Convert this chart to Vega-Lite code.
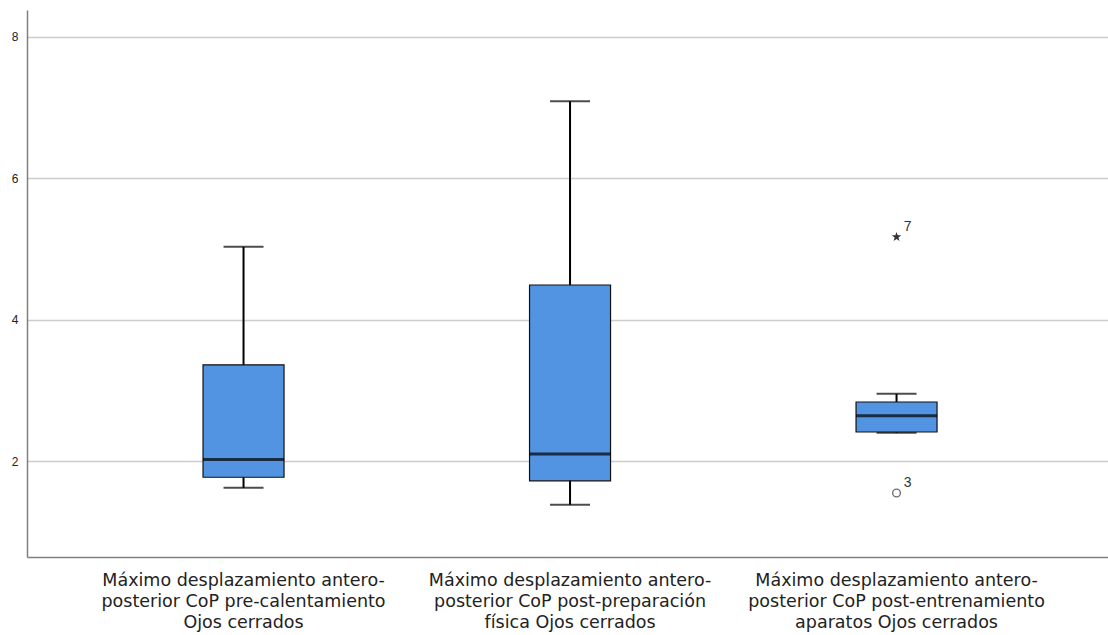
{
  "$schema": "https://vega.github.io/schema/vega-lite/v6.json",
  "width": 1081,
  "height": 547,
  "autosize": {"type": "none"},
  "padding": {"left": 27, "top": 10, "right": 0, "bottom": 78},
  "background": "white",
  "config": {
    "view": {"stroke": null},
    "font": "Liberation Sans",
    "axis": {"domainColor": "#808080", "domainWidth": 1.5, "gridColor": "#cccccc", "gridWidth": 1.5, "ticks": false, "labelColor": "#222222", "labelFont": "Liberation Sans", "title": null}
  },
  "datasets": {
    "stats": [
      {"cat": "Máximo desplazamiento antero-|posterior CoP pre-calentamiento|Ojos cerrados", "lower": 1.62, "q1": 1.77, "median": 2.02, "q3": 3.36, "upper": 5.03},
      {"cat": "Máximo desplazamiento antero-|posterior CoP post-preparación|física Ojos cerrados", "lower": 1.38, "q1": 1.72, "median": 2.10, "q3": 4.49, "upper": 7.09},
      {"cat": "Máximo desplazamiento antero-|posterior CoP post-entrenamiento|aparatos Ojos cerrados", "lower": 2.40, "q1": 2.41, "median": 2.64, "q3": 2.835, "upper": 2.95}
    ],
    "circles": [
      {"cat": "Máximo desplazamiento antero-|posterior CoP post-entrenamiento|aparatos Ojos cerrados", "value": 1.547, "id": "3"}
    ],
    "stars": [
      {"cat": "Máximo desplazamiento antero-|posterior CoP post-entrenamiento|aparatos Ojos cerrados", "value": 5.17, "id": "7"}
    ],
    "ids": [
      {"cat": "Máximo desplazamiento antero-|posterior CoP post-entrenamiento|aparatos Ojos cerrados", "value": 5.17, "id": "7"},
      {"cat": "Máximo desplazamiento antero-|posterior CoP post-entrenamiento|aparatos Ojos cerrados", "value": 1.547, "id": "3"}
    ]
  },
  "layer": [
    {
      "data": {"name": "stats"},
      "mark": {"type": "rule", "color": "black", "strokeWidth": 2},
      "encoding": {
        "x": {
          "field": "cat", "type": "nominal", "sort": null,
          "scale": {"type": "band", "paddingInner": 0, "paddingOuter": 0.1554, "align": 0.525},
          "axis": {"orient": "bottom", "labelAngle": 0, "labelExpr": "split(datum.label, '|')", "labelFont": "DejaVu Sans", "labelFontSize": 17.5, "labelLineHeight": 21, "labelPadding": 14, "labelBaseline": "top", "labelLimit": 400, "grid": false}
        },
        "y": {"field": "lower", "type": "quantitative", "scale": {"domain": [0.642, 8.38], "nice": false, "zero": false},
          "axis": {"orient": "left", "values": [2, 4, 6, 8], "format": "d", "labelFontSize": 12, "labelPadding": 9, "grid": true}},
        "y2": {"field": "upper"}
      }
    },
    {
      "data": {"name": "stats"},
      "mark": {"type": "tick", "color": "black", "thickness": 2, "size": 40, "orient": "horizontal"},
      "encoding": {"x": {"field": "cat", "type": "nominal", "sort": null}, "y": {"field": "lower", "type": "quantitative"}}
    },
    {
      "data": {"name": "stats"},
      "mark": {"type": "tick", "color": "black", "thickness": 2, "size": 40, "orient": "horizontal"},
      "encoding": {"x": {"field": "cat", "type": "nominal", "sort": null}, "y": {"field": "upper", "type": "quantitative"}}
    },
    {
      "data": {"name": "stats"},
      "mark": {"type": "bar", "fill": "#5294e2", "stroke": "#111111", "strokeWidth": 1.2, "size": 81},
      "encoding": {"x": {"field": "cat", "type": "nominal", "sort": null}, "y": {"field": "q1", "type": "quantitative"}, "y2": {"field": "q3"}}
    },
    {
      "data": {"name": "stats"},
      "mark": {"type": "tick", "color": "black", "thickness": 3, "size": 81, "orient": "horizontal"},
      "encoding": {"x": {"field": "cat", "type": "nominal", "sort": null}, "y": {"field": "median", "type": "quantitative"}}
    },
    {
      "data": {"name": "circles"},
      "mark": {"type": "point", "filled": false, "stroke": "#333333", "strokeWidth": 1.4, "size": 60},
      "encoding": {"x": {"field": "cat", "type": "nominal", "sort": null}, "y": {"field": "value", "type": "quantitative"}}
    },
    {
      "data": {"name": "stars"},
      "mark": {"type": "point", "shape": "M0,-1L0.235,-0.324L0.951,-0.309L0.38,0.124L0.588,0.809L0,0.4L-0.588,0.809L-0.38,0.124L-0.951,-0.309L-0.235,-0.324Z", "filled": true, "fill": "#333333", "strokeWidth": 0, "size": 100, "opacity": 1},
      "encoding": {"x": {"field": "cat", "type": "nominal", "sort": null}, "y": {"field": "value", "type": "quantitative"}}
    },
    {
      "data": {"name": "ids"},
      "mark": {"type": "text", "dx": 11, "dy": -10, "fontSize": 14, "fill": "#333333", "font": "Liberation Sans"},
      "encoding": {"x": {"field": "cat", "type": "nominal", "sort": null}, "y": {"field": "value", "type": "quantitative"}, "text": {"field": "id", "type": "nominal"}}
    }
  ]
}
